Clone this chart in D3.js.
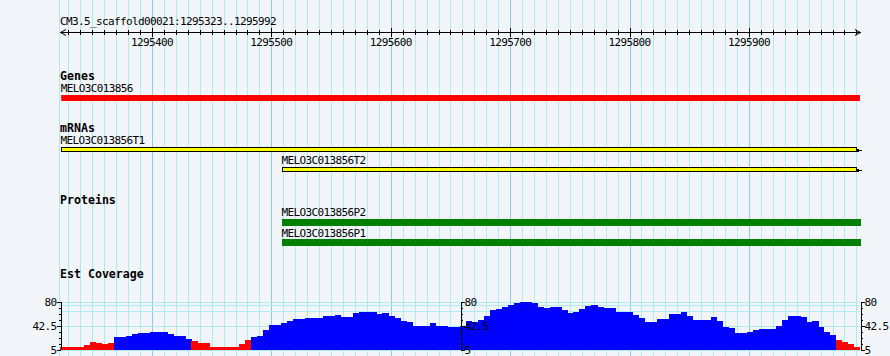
<!DOCTYPE html>
<html><head><meta charset="utf-8">
<script src="https://cdn.jsdelivr.net/npm/d3@7"></script>
<style>
body{margin:0;background:#f2f5fa;}
svg{display:block;}
text{font-family:'DejaVu Sans Mono',monospace;font-size:11px;letter-spacing:-0.62px;fill:#000;}
.bold{font-weight:bold;font-size:11.6px;letter-spacing:0px;}
</style>
</head><body>
<svg id="chart" width="890" height="356"></svg>
<script>
// ---------- data ----------
const regionTitle = "CM3.5_scaffold00021:1295323..1295992";
const regionStart = 1295323;
const regionEnd = 1295993;
const rulerMajorTicks = [1295400, 1295500, 1295600, 1295700, 1295800, 1295900];
const rulerMinorStep = 10;

const trackTitles = ["Genes", "mRNAs", "Proteins", "Est Coverage"];

const geneNames = ["MELO3C013856"];
const geneStarts = [1295324];
const geneEnds = [1295993];

const mrnaNames = ["MELO3C013856T1", "MELO3C013856T2"];
const mrnaStarts = [1295324, 1295509];
const mrnaEnds = [1295993, 1295993];

const proteinNames = ["MELO3C013856P2", "MELO3C013856P1"];
const proteinStarts = [1295509, 1295509];
const proteinEnds = [1295993, 1295993];

const coverageStart = 1295323;
const coverageBin = 5;
const coverageValues = [
  8.7,8.7,8.7,9,11.3,16,14.5,12.9,14.5,23.9,
  25,26,29.2,30.2,30.2,32.3,32.3,32.3,29.2,26,
  26,21.5,18,15.5,15.5,8.5,8.2,8.2,9,8.2,
  13,19.5,25,26,36,43,43.3,46,49.6,53,
  52,55,55,55,57.5,58,59,56.5,56.5,61.7,
  63.3,63.3,63.3,60.7,62,57.5,55,50,48.6,42.3,
  42.3,42.3,46,42.3,41.5,40.7,40.7,42.2,49,47.5,
  51.2,58,67,69,72,75,77.5,79.5,79.5,77,
  72,70.6,71,72,66,62,63,68,73,74.8,
  72,69.6,69.6,64.3,64,63.3,59,53.8,48.6,48.6,
  52.3,53,60.1,60.1,64.3,57.5,51.2,51.2,51.2,56.5,
  49.6,40.7,38,30.2,30.5,33,35.5,37,37,37.5,
  41,51.2,58,58,56.5,48.6,50.2,40.7,32.8,27.6,
  19.7,17,12.9,8.2
];
const coveragePivot = 21;
const coverageMin = 5, coverageMax = 80;
const coverageTickLabels = [5, 42.5, 80];
const coverageGridValues = [80, 75, 65, 42.5];

// ---------- drawing ----------
const svg = d3.select("#chart");
const x = d3.scaleLinear().domain([regionStart, regionEnd]).range([60, 860]);
const px = v => Math.round(x(v)) + 0.5;

svg.append("rect").attr("width", 890).attr("height", 356).attr("fill", "#f2f5fa");

// vertical grid
const minorVals = d3.range(regionStart - (regionStart % rulerMinorStep) + rulerMinorStep, regionEnd, rulerMinorStep);
const gridG = svg.append("g").attr("shape-rendering", "crispEdges");
gridG.append("line").attr("x1", 59.5).attr("x2", 59.5).attr("y1", 0).attr("y2", 356)
  .attr("stroke", "#aeeaf0");
gridG.selectAll("line.minor").data(minorVals.filter(v => v % 100 !== 0)).join("line")
  .attr("class", "minor")
  .attr("x1", d => px(d)).attr("x2", d => px(d)).attr("y1", 0).attr("y2", 356)
  .attr("stroke", "#aeeaf0");
gridG.selectAll("line.major").data(rulerMajorTicks).join("line")
  .attr("class", "major")
  .attr("x1", d => px(d)).attr("x2", d => px(d)).attr("y1", 0).attr("y2", 356)
  .attr("stroke", "#8ccbe6");

// ruler
const rulerG = svg.append("g").attr("shape-rendering", "crispEdges");
svg.append("text").attr("x", 60).attr("y", 25).text(regionTitle);
rulerG.append("line").attr("x1", 60).attr("x2", 861).attr("y1", 32.5).attr("y2", 32.5).attr("stroke", "#000");
rulerG.selectAll("line.rminor").data(minorVals.filter(v => v % 100 !== 0)).join("line")
  .attr("x1", d => px(d)).attr("x2", d => px(d)).attr("y1", 30).attr("y2", 35).attr("stroke", "#000");
rulerG.selectAll("line.rmajor").data(rulerMajorTicks).join("line")
  .attr("x1", d => px(d)).attr("x2", d => px(d)).attr("y1", 28).attr("y2", 37).attr("stroke", "#000");
svg.append("path").attr("d", "M66,29.5 L60.5,32.5 L66,35.5").attr("fill", "none").attr("stroke", "#000");
svg.append("path").attr("d", "M855,29.5 L860.5,32.5 L855,35.5").attr("fill", "none").attr("stroke", "#000");
svg.selectAll("text.rlab").data(rulerMajorTicks).join("text")
  .attr("x", d => x(d)).attr("y", 46).attr("text-anchor", "middle").text(d => d);

// track titles
const titleY = [80, 132, 204, 278];
svg.selectAll("text.title").data(trackTitles).join("text")
  .attr("class", "bold").attr("x", 60).attr("y", (d, i) => titleY[i]).text(d => d);

// genes
const geneLabelY = [92], geneBarY = [95];
geneNames.forEach((n, i) => {
  svg.append("text").attr("x", x(geneStarts[i]) - 0.5).attr("y", geneLabelY[i]).text(n);
  svg.append("rect").attr("x", x(geneStarts[i])).attr("y", geneBarY[i])
    .attr("width", x(geneEnds[i]) - x(geneStarts[i])).attr("height", 6).attr("fill", "#ff0000");
});

// mRNAs
const mrnaLabelY = [144, 164], mrnaBarY = [147, 167];
mrnaNames.forEach((n, i) => {
  const x0 = Math.round(x(mrnaStarts[i])), x1 = Math.round(x(mrnaEnds[i]));
  svg.append("text").attr("x", x0 - 0.5).attr("y", mrnaLabelY[i]).text(n);
  svg.append("rect").attr("x", x0 + 0.5).attr("y", mrnaBarY[i] + 0.5)
    .attr("width", x1 - 4 - x0).attr("height", 4).attr("fill", "#ffff00")
    .attr("stroke", "#000").attr("stroke-width", 1).attr("shape-rendering", "crispEdges");
  svg.append("rect").attr("x", x1 - 3).attr("y", mrnaBarY[i] + 1.5).attr("width", 2).attr("height", 3)
    .attr("fill", "#000").attr("shape-rendering", "crispEdges");
  svg.append("rect").attr("x", x1 - 1).attr("y", mrnaBarY[i] + 2.5).attr("width", 3).attr("height", 1)
    .attr("fill", "#000").attr("shape-rendering", "crispEdges");
});

// proteins
const protLabelY = [216, 237], protBarY = [219, 239];
proteinNames.forEach((n, i) => {
  const x0 = Math.round(x(proteinStarts[i])), x1 = Math.round(x(proteinEnds[i]));
  svg.append("text").attr("x", x0 - 0.5).attr("y", protLabelY[i]).text(n);
  svg.append("rect").attr("x", x0).attr("y", protBarY[i]).attr("width", x1 + 1 - x0).attr("height", 6.5)
    .attr("fill", "#008000").attr("shape-rendering", "crispEdges");
});

// coverage
const y = d3.scaleLinear().domain([coverageMin, coverageMax]).range([349.5, 301.5]);
const covG = svg.append("g").attr("shape-rendering", "crispEdges");
covG.selectAll("line.hg").data(coverageGridValues).join("line")
  .attr("x1", 60).attr("x2", 860).attr("y1", d => Math.round(y(d)) + 0.5).attr("y2", d => Math.round(y(d)) + 0.5)
  .attr("stroke", "#aeeaf0");
covG.append("line").attr("x1", 60).attr("x2", 860).attr("y1", 350.5).attr("y2", 350.5).attr("stroke", "#aeeaf0");
covG.selectAll("rect.cov").data(coverageValues).join("rect")
  .attr("x", (d, i) => x(coverageStart + i * coverageBin))
  .attr("width", (d, i) => Math.min(x(coverageStart + (i + 1) * coverageBin), 860) - x(coverageStart + i * coverageBin) + 0.3)
  .attr("y", d => y(d))
  .attr("height", d => y(coverageMin) - y(d))
  .attr("fill", d => d < coveragePivot ? "#ff0000" : "#0000ff");

const minorCovTicks = d3.range(0, 9).map(k => coverageMin + k * (coverageMax - coverageMin) / 8);
function drawAxis(xpos, side) {
  const g = svg.append("g").attr("transform", `translate(${xpos},0)`);
  const mk = side === "left" ? d3.axisLeft(y) : d3.axisRight(y);
  g.call(mk.tickValues(minorCovTicks).tickSize(2).tickSizeOuter(0).tickFormat(""));
  const mk2 = side === "left" ? d3.axisLeft(y) : d3.axisRight(y);
  const g2 = svg.append("g").attr("transform", `translate(${xpos},0)`);
  g2.call(mk2.tickValues(coverageTickLabels).tickSize(4).tickSizeOuter(0).tickPadding(0).tickFormat(d3.format("")));
  [g, g2].forEach(gg => {
    gg.select(".domain").attr("stroke", "#000").attr("shape-rendering", "crispEdges");
    gg.selectAll("line").attr("stroke", "#000").attr("shape-rendering", "crispEdges");
    gg.selectAll("text").attr("font-family", "'DejaVu Sans Mono',monospace").attr("font-size", "11px")
      .attr("letter-spacing", "-0.62px").attr("fill", "#000");
  });
}
drawAxis(60.5, "left");
drawAxis(460.5, "right");
drawAxis(860.5, "right");
</script>
</body></html>
